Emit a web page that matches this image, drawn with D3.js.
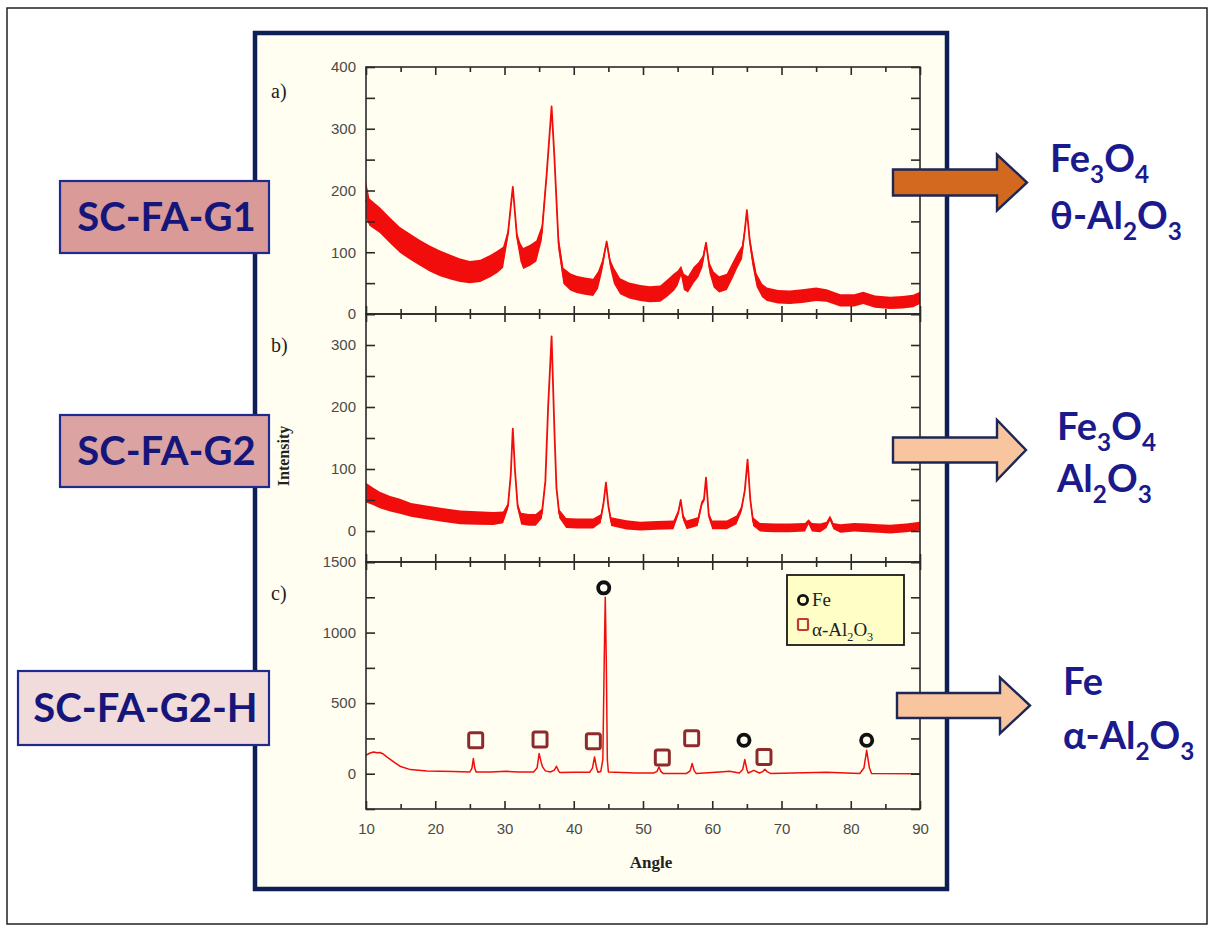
<!DOCTYPE html>
<html>
<head>
<meta charset="utf-8">
<script src="https://cdn.jsdelivr.net/npm/d3@7"></script>
<style>
  body { margin: 0; background: #fff; }
</style>
</head>
<body>
<div id="chart"></div>
<script>
// values

const angleTicks = [10, 20, 30, 40, 50, 60, 70, 80, 90]
const minorAngleTicks = [15, 25, 35, 45, 55, 65, 75, 85]

// a) SC-FA-G1 : angle, middle of the noisy trace, width of the noise band
const anglesA = [10, 10.5, 12, 13.5, 14.9, 16.5, 17.8, 19.2, 20.7, 22.2, 23.6, 25, 26.5, 28, 29, 29.8, 30.5, 31.2, 31.8, 32.3, 32.7, 33.7, 34.6, 35.4, 36.1, 36.8, 37.2, 37.8, 38.5, 39.5, 40.4, 41.6, 42.8, 43.5, 44.1, 44.75, 45.3, 45.8, 46.7, 48, 49.6, 51, 52.5, 53.5, 54.5, 55, 55.5, 55.9, 56.5, 57.3, 58, 58.6, 59.1, 59.6, 60.2, 61, 62.1, 63, 63.6, 64.3, 64.7, 65, 65.4, 65.8, 66.4, 67.2, 67.9, 69.5, 71.2, 73, 75, 76.5, 78.5, 80.5, 81.8, 83.5, 85.7, 87.5, 89, 90]
const intensA = [185, 165, 152, 135, 120, 108, 99, 90, 82, 76, 71, 68, 70, 78, 85, 92, 130, 206, 125, 100, 90, 95, 102, 132, 228, 336, 255, 115, 62, 52, 48, 45, 43, 55, 78, 117, 80, 62, 45, 38, 34, 32, 33, 42, 52, 58, 70, 52, 48, 63, 72, 85, 115, 75, 56, 48, 52, 72, 86, 100, 135, 168, 120, 90, 55, 38, 32, 28, 27, 29, 32, 30, 22, 22, 26, 20, 18, 19, 21, 26]
const noiseA = [60, 44, 42, 42, 42, 42, 42, 42, 42, 40, 38, 36, 36, 36, 36, 34, 14, 6, 14, 30, 34, 34, 34, 24, 12, 4, 12, 24, 26, 28, 28, 28, 28, 28, 18, 6, 16, 26, 26, 26, 26, 26, 26, 28, 28, 24, 16, 26, 26, 26, 24, 18, 6, 18, 26, 26, 26, 26, 24, 22, 14, 6, 16, 22, 22, 22, 22, 22, 22, 22, 22, 20, 20, 20, 20, 20, 20, 20, 20, 20]

// b) SC-FA-G2
const anglesB = [10, 11, 12, 13.5, 14.9, 16.5, 18.7, 21, 23.6, 26, 28.4, 29.8, 30.5, 30.9, 31.2, 31.5, 31.9, 32.4, 33.5, 34.5, 35.4, 35.9, 36.3, 36.8, 37.2, 37.5, 37.9, 38.9, 40.5, 42.8, 43.9, 44.3, 44.65, 45, 45.4, 47.6, 49.6, 52, 54.4, 55.1, 55.45, 55.8, 56.3, 57.9, 58.5, 58.8, 59.1, 59.5, 60, 62.1, 63.5, 64.2, 64.7, 65.1, 65.5, 65.9, 66.9, 69, 71.2, 73.4, 73.9, 74.4, 75.6, 76.5, 77, 77.5, 78.5, 80.5, 82.4, 84, 85.7, 88, 90]
const intensB = [62, 56, 50, 44, 40, 34, 30, 26, 22, 21, 20, 22, 40, 90, 165, 100, 40, 20, 18, 18, 28, 80, 200, 314, 165, 70, 28, 13, 12, 12, 20, 45, 78, 40, 15, 10, 8, 9, 10, 30, 50, 22, 10, 15, 45, 50, 86, 25, 10, 10, 18, 35, 65, 115, 50, 15, 6, 5, 5, 6, 15, 6, 5, 10, 21, 8, 4, 6, 5, 4, 3, 5, 8]
const noiseB = [32, 28, 27, 25, 24, 22, 22, 22, 22, 22, 21, 19, 10, 6, 4, 6, 10, 19, 19, 19, 16, 8, 5, 3, 6, 8, 14, 16, 16, 16, 14, 8, 4, 8, 14, 15, 14, 14, 14, 8, 4, 10, 14, 14, 8, 6, 4, 10, 14, 14, 14, 10, 6, 4, 8, 14, 14, 14, 14, 14, 8, 14, 14, 10, 8, 10, 14, 14, 14, 14, 14, 14, 14]

// c) SC-FA-G2-H (smooth trace)
const anglesC = [10, 10.5, 11.1, 11.6, 12, 12.5, 13, 14, 14.9, 16.4, 18.8, 22.6, 25, 25.3, 25.5, 25.7, 25.9, 28, 30.3, 32, 34.2, 34.7, 35, 35.3, 35.5, 35.9, 36.6, 37.2, 37.5, 37.8, 38, 40, 42.3, 42.7, 43, 43.3, 43.5, 43.9, 44.2, 44.4, 44.55, 44.7, 44.85, 45, 47, 49, 51.5, 52, 52.3, 52.6, 52.9, 56.3, 56.8, 57.1, 57.4, 57.7, 61.1, 62.5, 63.9, 64.4, 64.7, 65, 65.2, 66, 66.8, 67.3, 67.6, 67.9, 68.4, 76.5, 81.3, 81.9, 82.3, 82.7, 83, 89.5, 90]
const intensC = [130, 145, 154, 148, 150, 140, 119, 84, 53, 29, 20, 15, 12, 40, 107, 40, 12, 12, 17, 12, 12, 40, 143, 80, 48, 20, 12, 25, 53, 20, 8, 10, 10, 40, 119, 40, 10, 15, 100, 800, 1250, 800, 100, 12, 8, 5, 5, 15, 48, 15, 2, 2, 20, 72, 20, 2, 12, 17, 5, 30, 100, 30, 5, 24, 5, 15, 32, 15, 2, 10, 2, 40, 166, 40, 2, 0, 0]

// phase markers in panel c
const feAngles = [44.33, 64.58, 82.3]
const feIntens = [1317, 237, 237]
const alAngles = [25.84, 35.13, 42.83, 52.79, 57.03, 67.47]
const alIntens = [237, 243, 230, 115, 251, 119]

const sampleNames = ["SC-FA-G1", "SC-FA-G2", "SC-FA-G2-H"]
const phaseLines = [["Fe3O4", "θ-Al2O3"], ["Fe3O4", "Al2O3"], ["Fe", "α-Al2O3"]]
const legendNames = ["Fe", "α-Al2O3"]

// ---- layout ----
const W = 1214, H = 931
const left = 366, right = 920

const svg = d3.select("#chart").append("svg")
    .attr("width", W)
    .attr("height", H)
    .style("font-family", "'Liberation Sans', Arial, sans-serif")

svg.append("rect").attr("width", W).attr("height", H).attr("fill", "#fff")

// outer thin border
svg.append("rect")
    .attr("x", 7).attr("y", 8).attr("width", 1200).attr("height", 916)
    .attr("fill", "none").attr("stroke", "#222").attr("stroke-width", 1.5)

// navy framed figure
svg.append("rect")
    .attr("x", 255).attr("y", 33).attr("width", 692).attr("height", 856)
    .attr("fill", "#fffef0").attr("stroke", "#0d1f55").attr("stroke-width", 4.5)

const x = d3.scaleLinear().domain([10, 90]).range([left, right])

const panels = [
  { letter: "a)", top: 67, bottom: 314, domain: [0, 400], major: [0, 100, 200, 300, 400], minor: [50, 150, 250, 350],
    angles: anglesA, intens: intensA, noise: noiseA },
  { letter: "b)", top: 314, bottom: 562, domain: [-50, 350], major: [0, 100, 200, 300], minor: [-50, 50, 150, 250, 350],
    angles: anglesB, intens: intensB, noise: noiseB },
  { letter: "c)", top: 562, bottom: 809, domain: [-250, 1500], major: [0, 500, 1000, 1500], minor: [-250, 250, 750, 1250],
    angles: anglesC, intens: intensC, noise: null }
]

const red = "#f20d0d"

panels.forEach((p, i) => {
  const y = d3.scaleLinear().domain(p.domain).range([p.bottom, p.top])
  p.y = y
  const g = svg.append("g")

  // trace
  const pts = p.angles.map((a, k) => ({ a, v: p.intens[k], n: p.noise ? p.noise[k] : 0 }))
  if (p.noise) {
    g.append("path")
      .datum(pts)
      .attr("fill", red)
      .attr("d", d3.area().x(d => x(d.a)).y0(d => y(d.v - d.n / 2)).y1(d => y(d.v + d.n / 2)))
  }
  g.append("path")
    .datum(pts)
    .attr("fill", "none")
    .attr("stroke", red)
    .attr("stroke-width", p.noise ? 1.8 : 1.5)
    .attr("stroke-linejoin", "round")
    .attr("d", d3.line().x(d => x(d.a)).y(d => y(d.v)))

  // frame
  g.append("rect")
    .attr("x", left).attr("y", p.top)
    .attr("width", right - left).attr("height", p.bottom - p.top)
    .attr("fill", "none").attr("stroke", "#2a2a2a").attr("stroke-width", 1.6)

  // y axes, ticks pointing inward
  const yl = g.append("g").attr("transform", `translate(${left},0)`)
    .call(d3.axisLeft(y).tickValues(p.major).tickSize(-9).tickPadding(10).tickFormat(d3.format("d")))
  const ylm = g.append("g").attr("transform", `translate(${left},0)`)
    .call(d3.axisLeft(y).tickValues(p.minor).tickSize(-9).tickFormat(""))
  const yr = g.append("g").attr("transform", `translate(${right},0)`)
    .call(d3.axisRight(y).tickValues(p.major.concat(p.minor)).tickSize(-9).tickFormat(""))

  // x axes on top and bottom of each panel
  const xt = g.append("g").attr("transform", `translate(0,${p.top})`)
    .call(d3.axisTop(x).tickValues(angleTicks).tickSize(-8).tickFormat(""))
  const xtm = g.append("g").attr("transform", `translate(0,${p.top})`)
    .call(d3.axisTop(x).tickValues(minorAngleTicks).tickSize(-5).tickFormat(""))
  const xb = g.append("g").attr("transform", `translate(0,${p.bottom})`)
    .call(d3.axisBottom(x).tickValues(angleTicks).tickSize(-8).tickPadding(14)
      .tickFormat(i === 2 ? d3.format("d") : ""))
  const xbm = g.append("g").attr("transform", `translate(0,${p.bottom})`)
    .call(d3.axisBottom(x).tickValues(minorAngleTicks).tickSize(-5).tickFormat(""))

  ;[yl, ylm, yr, xt, xtm, xb, xbm].forEach(a => {
    a.select(".domain").remove()
    a.selectAll("line").attr("stroke", "#2a2a2a").attr("stroke-width", 1.6)
    a.selectAll("text").attr("fill", "#4a4a4a").style("font-size", "15px")
      .style("font-family", "'Liberation Sans', Arial, sans-serif")
  })

  // panel letter
  g.append("text")
    .attr("x", 271).attr("y", p.top + (i === 0 ? 31 : 38))
    .style("font-family", "'Liberation Serif', 'Times New Roman', serif")
    .style("font-size", "20px")
    .attr("fill", "#222")
    .text(p.letter)
})

// axis titles
svg.append("text")
  .attr("transform", "translate(289,456) rotate(-90)")
  .attr("text-anchor", "middle")
  .style("font-family", "'Liberation Serif', 'Times New Roman', serif")
  .style("font-size", "16px").style("font-weight", "bold")
  .attr("fill", "#222")
  .text("Intensity")

svg.append("text")
  .attr("x", 651).attr("y", 868)
  .attr("text-anchor", "middle")
  .style("font-family", "'Liberation Serif', 'Times New Roman', serif")
  .style("font-size", "17px").style("font-weight", "bold")
  .attr("fill", "#222")
  .text("Angle")

// phase markers on panel c
const yc = panels[2].y
svg.append("g").selectAll("rect")
  .data(alAngles.map((a, k) => [a, alIntens[k]]))
  .join("rect")
    .attr("x", d => x(d[0]) - 7).attr("y", d => yc(d[1]) - 7.5)
    .attr("width", 14).attr("height", 15)
    .attr("rx", 2)
    .attr("fill", "none").attr("stroke", "#8e2a2c").attr("stroke-width", 3)

svg.append("g").selectAll("circle")
  .data(feAngles.map((a, k) => [a, feIntens[k]]))
  .join("circle")
    .attr("cx", d => x(d[0])).attr("cy", d => yc(d[1]))
    .attr("r", 5.6)
    .attr("fill", "none").attr("stroke", "#111").attr("stroke-width", 3.8)

// helper: chemical formula with subscript digits
function formula(textSel, str, size) {
  const parts = str.match(/\d+|\D+/g)
  let down = false
  parts.forEach(s => {
    const isNum = /^\d+$/.test(s)
    const t = textSel.append("tspan").text(s)
    if (isNum) {
      t.attr("dy", size * 0.28).style("font-size", (size * 0.64) + "px")
      down = true
    } else {
      if (down) t.attr("dy", -size * 0.28)
      down = false
    }
  })
}

// legend
const lg = svg.append("g")
lg.append("rect")
  .attr("x", 787).attr("y", 575).attr("width", 117).attr("height", 70)
  .attr("fill", "#fefec6").attr("stroke", "#1a1a1a").attr("stroke-width", 1.8)
lg.append("circle")
  .attr("cx", 803).attr("cy", 600).attr("r", 4.6)
  .attr("fill", "none").attr("stroke", "#111").attr("stroke-width", 2.8)
lg.append("rect")
  .attr("x", 798).attr("y", 619).attr("width", 10).attr("height", 11).attr("rx", 1)
  .attr("fill", "none").attr("stroke", "#c0393b").attr("stroke-width", 2.2)
legendNames.forEach((n, k) => {
  const t = lg.append("text")
    .attr("x", 812).attr("y", 606 + k * 30)
    .style("font-family", "'Liberation Serif', 'Times New Roman', serif")
    .style("font-size", "19px")
    .attr("fill", "#222")
  formula(t, n, 19)
})

// sample name boxes (left)
const boxes = [
  { x: 60, y: 181, w: 209, h: 72, fill: "#d99a98" },
  { x: 60, y: 415, w: 209, h: 72, fill: "#dba4a2" },
  { x: 18, y: 671, w: 251, h: 74, fill: "#f2dcdb" }
]
boxes.forEach((b, k) => {
  svg.append("rect")
    .attr("x", b.x).attr("y", b.y).attr("width", b.w).attr("height", b.h)
    .attr("fill", b.fill).attr("stroke", "#1f2a8f").attr("stroke-width", 2.2)
  svg.append("text")
    .attr("x", b.x + b.w / 2 + 2).attr("y", b.y + b.h / 2 + 14)
    .attr("text-anchor", "middle")
    .style("font-family", "Lato, 'Open Sans', sans-serif")
    .style("font-weight", "bold").style("font-size", "40px")
    .attr("fill", "#16167a")
    .text(sampleNames[k])
})

// arrows and phase labels (right)
const arrows = [
  { x0: 893, xb: 997, tip: 1027, cy: 182.5, sh: 13, hh: 28, fill: "#d2691f", tx: 1050, b1: 172, b2: 229 },
  { x0: 893, xb: 997, tip: 1026, cy: 450, sh: 12.5, hh: 30, fill: "#f8c59e", tx: 1057, b1: 440, b2: 492 },
  { x0: 897, xb: 1000, tip: 1030, cy: 705.5, sh: 12.5, hh: 28, fill: "#f8c59e", tx: 1063, b1: 695, b2: 749 }
]
arrows.forEach((a, k) => {
  const pts = [
    [a.x0, a.cy - a.sh], [a.xb, a.cy - a.sh], [a.xb, a.cy - a.hh], [a.tip, a.cy],
    [a.xb, a.cy + a.hh], [a.xb, a.cy + a.sh], [a.x0, a.cy + a.sh]
  ]
  svg.append("path")
    .attr("d", d3.line()(pts) + "Z")
    .attr("fill", a.fill).attr("stroke", "#1c2757").attr("stroke-width", 2.4)
    .attr("stroke-linejoin", "miter")
  phaseLines[k].forEach((s, j) => {
    const t = svg.append("text")
      .attr("x", a.tx).attr("y", j === 0 ? a.b1 : a.b2)
      .style("font-family", "Lato, 'Open Sans', sans-serif")
      .style("font-weight", "bold").style("font-size", "38px")
      .attr("fill", "#1a1a8c")
    formula(t, s, 38)
  })
})
</script>
</body>
</html>
